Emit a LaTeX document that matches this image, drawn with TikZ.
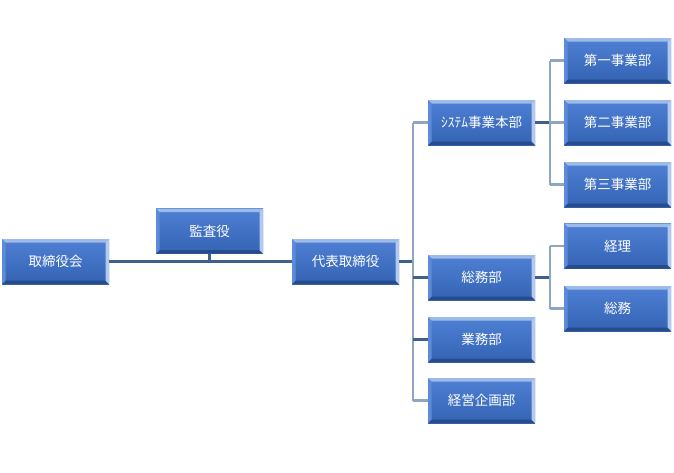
\documentclass[tikz,border=0pt]{standalone}
\usepackage{fontspec}
\setmainfont{Noto Sans CJK JP}
\usetikzlibrary{calc}
\definecolor{boxtop}{HTML}{4F80D4}
\definecolor{boxbot}{HTML}{3463B3}
\definecolor{bevtop}{HTML}{9CBBEA}
\definecolor{bevbot}{HTML}{274C8C}
\definecolor{bevleft}{HTML}{5D8BD8}
\definecolor{bevright}{HTML}{B4CAEC}
\definecolor{linedark}{HTML}{3F6089}
\definecolor{linelight}{HTML}{8FA6C3}
\tikzset{
  orgbox/.style={rectangle, minimum width=107pt, minimum height=45pt, inner sep=0pt,
    top color=boxtop, bottom color=boxbot, text=white,
    font=\fontsize{13.5}{15}\selectfont,
    path picture={
      \coordinate (nw) at (path picture bounding box.north west);
      \coordinate (ne) at (path picture bounding box.north east);
      \coordinate (sw) at (path picture bounding box.south west);
      \coordinate (se) at (path picture bounding box.south east);
      \fill[bevtop] (nw) -- (ne) -- ($(ne)+(-3.5pt,-3.5pt)$) -- ($(nw)+(3.5pt,-3.5pt)$) -- cycle;
      \fill[bevbot] (sw) -- (se) -- ($(se)+(-3.5pt,3.5pt)$) -- ($(sw)+(3.5pt,3.5pt)$) -- cycle;
      \fill[bevleft] (nw) -- (sw) -- ($(sw)+(3.5pt,3.5pt)$) -- ($(nw)+(3.5pt,-3.5pt)$) -- cycle;
      \fill[bevright] (ne) -- (se) -- ($(se)+(-3.5pt,3.5pt)$) -- ($(ne)+(-3.5pt,-3.5pt)$) -- cycle;
    }},
  hline/.style={draw=linedark, line width=2.2pt},
  vline/.style={draw=linelight, line width=2.2pt},
}
\begin{document}
\begin{tikzpicture}[x=1pt,y=-1pt]
\useasboundingbox (0,0) rectangle (674,472);
\coordinate (busA) at (413,0);
\coordinate (busB) at (550,0);
\node[orgbox] (board) at (55.5,261.5) {取締役会};
\node[orgbox] (audit) at (209.5,231) {監査役};
\node[orgbox] (ceo) at (345.5,261.5) {代表取締役};
\node[orgbox] (sys) at (481.5,122.5) {ｼｽﾃﾑ事業本部};
\node[orgbox] (gen) at (481.5,277.5) {総務部};
\node[orgbox] (biz) at (481.5,339.5) {業務部};
\node[orgbox] (plan) at (481.5,400.5) {経営企画部};
\node[orgbox] (d1) at (617.5,60.5) {第一事業部};
\node[orgbox] (d2) at (617.5,122.5) {第二事業部};
\node[orgbox] (d3) at (617.5,184.5) {第三事業部};
\node[orgbox] (acc) at (617.5,246) {経理};
\node[orgbox] (gen2) at (617.5,308.5) {総務};
% lines
\draw[hline] (board.east) -- (ceo.west);
\draw[hline] (audit.south) -- (audit.south |- board.east);
\draw[hline] (ceo.east) -- (busA |- ceo.east);
\draw[vline] (busA |- sys.west) -- (busA |- plan.west);
\draw[vline] (busA |- sys.west) -- (sys.west);
\draw[hline] (busA |- gen.west) -- (gen.west);
\draw[hline] (busA |- biz.west) -- (biz.west);
\draw[vline] (busA |- plan.west) -- (plan.west);
\draw[hline] (sys.east) -- (busB |- sys.east);
\draw[vline] (busB |- d1.west) -- (busB |- d3.west);
\draw[vline] (busB |- d1.west) -- (d1.west);
\draw[vline] (busB |- d2.west) -- (d2.west);
\draw[vline] (busB |- d3.west) -- (d3.west);
\draw[hline] (gen.east) -- (busB |- gen.east);
\draw[vline] (busB |- acc.west) -- (busB |- gen2.west);
\draw[vline] (busB |- acc.west) -- (acc.west);
\draw[vline] (busB |- gen2.west) -- (gen2.west);
\end{tikzpicture}
\end{document}
